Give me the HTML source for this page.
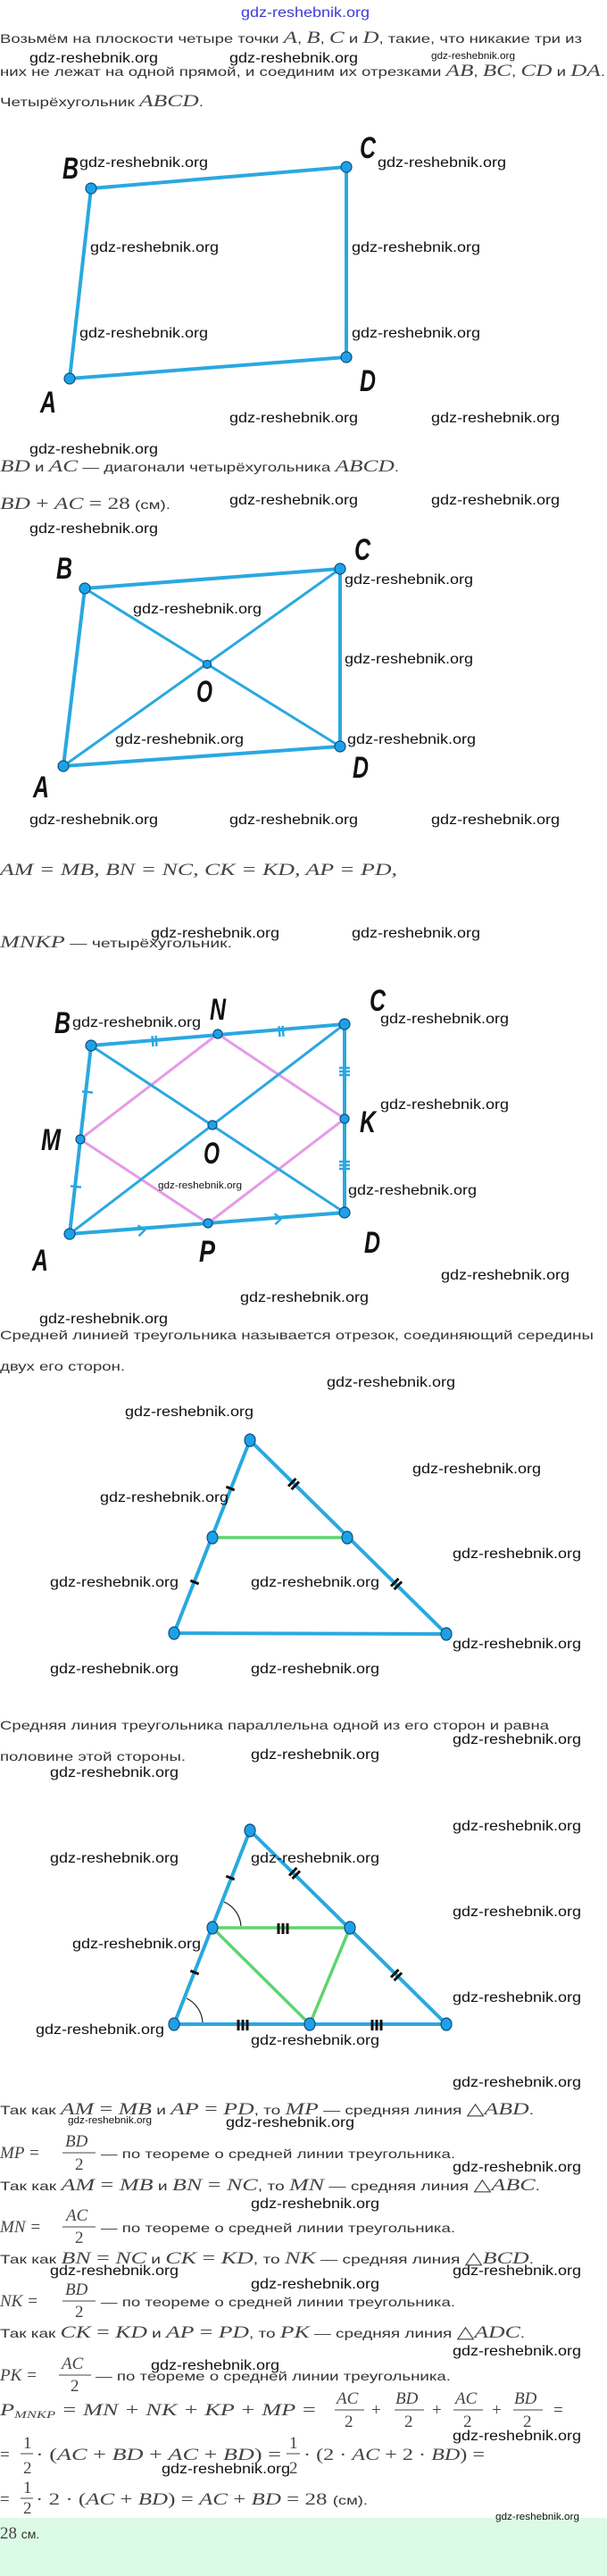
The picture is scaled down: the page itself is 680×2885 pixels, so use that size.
<!DOCTYPE html>
<html><head><meta charset="utf-8"><style>
html,body{margin:0;padding:0;background:#fff;}
svg{display:block;}
.t{font-family:"Liberation Sans",sans-serif;font-size:14px;fill:#333;}
.m{font-family:"Liberation Serif",serif;font-style:italic;font-size:19px;fill:#444;}
.r{font-family:"Liberation Serif",serif;font-size:19px;fill:#444;}
.w{font-family:"Liberation Sans",sans-serif;font-size:16px;fill:#111;}
.ws{font-family:"Liberation Sans",sans-serif;font-size:11px;fill:#111;}
.L{font-family:"Liberation Sans",sans-serif;font-weight:bold;font-style:italic;font-size:34px;fill:#111;}
.ln{stroke:#2aa8e0;stroke-width:4;fill:none;stroke-linecap:round;}
.ln2{stroke:#2aa8e0;stroke-width:3;fill:none;}
.pk{stroke:#e59be8;stroke-width:3;fill:none;}
.gr{stroke:#5fd46f;stroke-width:3.5;fill:none;}
.dt{fill:#1fa0e6;stroke:#0b4f80;stroke-width:1.2;}
.tk{stroke:#111;stroke-width:3;}
.tkb{stroke:#2aa8e0;stroke-width:2.5;fill:none;}
</style></head><body>
<svg width="680" height="2885" viewBox="0 0 680 2885" xmlns="http://www.w3.org/2000/svg">
<rect x="0" y="2820" width="680" height="65" fill="#dcfbe6"/>
<text x="270" y="19" font-family="Liberation Sans,sans-serif" font-size="16" fill="#3b3bd6" textLength="144" lengthAdjust="spacingAndGlyphs">gdz-reshebnik.org</text>

<text class="t" x="0" y="48" textLength="652" lengthAdjust="spacingAndGlyphs">Возьмём на плоскости четыре точки <tspan class="m">A</tspan>, <tspan class="m">B</tspan>, <tspan class="m">C</tspan> и <tspan class="m">D</tspan>, такие, что никакие три из</text>
<text class="w" x="33" y="70" textLength="144" lengthAdjust="spacingAndGlyphs">gdz-reshebnik.org</text>
<text class="w" x="257" y="70" textLength="144" lengthAdjust="spacingAndGlyphs">gdz-reshebnik.org</text>
<text class="ws" x="483" y="66" textLength="94" lengthAdjust="spacingAndGlyphs">gdz-reshebnik.org</text>
<text class="t" x="0" y="85" textLength="678" lengthAdjust="spacingAndGlyphs">них не лежат на одной прямой, и соединим их отрезками <tspan class="m">AB</tspan>, <tspan class="m">BC</tspan>, <tspan class="m">CD</tspan> и <tspan class="m">DA</tspan>.</text>
<text class="t" x="0" y="119" textLength="228" lengthAdjust="spacingAndGlyphs">Четырёхугольник <tspan class="m">ABCD</tspan>.</text>

<!-- Quad 1 -->
<polygon class="ln" points="102,211 388,187 388,400 78,424"/>
<circle class="dt" cx="102" cy="211" r="6"/><circle class="dt" cx="388" cy="187" r="6"/>
<circle class="dt" cx="388" cy="400" r="6"/><circle class="dt" cx="78" cy="424" r="6"/>
<text class="L" x="70" y="200" textLength="18" lengthAdjust="spacingAndGlyphs">B</text>
<text class="L" x="403" y="177" textLength="18" lengthAdjust="spacingAndGlyphs">C</text>
<text class="L" x="403" y="438" textLength="18" lengthAdjust="spacingAndGlyphs">D</text>
<text class="L" x="45" y="462" textLength="18" lengthAdjust="spacingAndGlyphs">A</text>
<text class="w" x="89" y="187" textLength="144" lengthAdjust="spacingAndGlyphs">gdz-reshebnik.org</text>
<text class="w" x="423" y="187" textLength="144" lengthAdjust="spacingAndGlyphs">gdz-reshebnik.org</text>
<text class="w" x="101" y="282" textLength="144" lengthAdjust="spacingAndGlyphs">gdz-reshebnik.org</text>
<text class="w" x="394" y="282" textLength="144" lengthAdjust="spacingAndGlyphs">gdz-reshebnik.org</text>
<text class="w" x="89" y="378" textLength="144" lengthAdjust="spacingAndGlyphs">gdz-reshebnik.org</text>
<text class="w" x="394" y="378" textLength="144" lengthAdjust="spacingAndGlyphs">gdz-reshebnik.org</text>
<text class="w" x="257" y="473" textLength="144" lengthAdjust="spacingAndGlyphs">gdz-reshebnik.org</text>
<text class="w" x="483" y="473" textLength="144" lengthAdjust="spacingAndGlyphs">gdz-reshebnik.org</text>

<text class="w" x="33" y="508" textLength="144" lengthAdjust="spacingAndGlyphs">gdz-reshebnik.org</text>
<text class="t" x="0" y="528" textLength="447" lengthAdjust="spacingAndGlyphs"><tspan class="m">BD</tspan> и <tspan class="m">AC</tspan> — диагонали четырёхугольника <tspan class="m">ABCD</tspan>.</text>
<text class="t" x="0" y="570" textLength="191" lengthAdjust="spacingAndGlyphs"><tspan class="m">BD</tspan><tspan class="r"> + </tspan><tspan class="m">AC</tspan><tspan class="r"> = 28</tspan> (см).</text>
<text class="w" x="257" y="565" textLength="144" lengthAdjust="spacingAndGlyphs">gdz-reshebnik.org</text>
<text class="w" x="483" y="565" textLength="144" lengthAdjust="spacingAndGlyphs">gdz-reshebnik.org</text>
<text class="w" x="33" y="597" textLength="144" lengthAdjust="spacingAndGlyphs">gdz-reshebnik.org</text>

<!-- Quad 2 -->
<polygon class="ln" points="95,659 381,637 381,836 71,858"/>
<line class="ln2" x1="95" y1="659" x2="381" y2="836"/>
<line class="ln2" x1="71" y1="858" x2="381" y2="637"/>
<circle class="dt" cx="95" cy="659" r="6"/><circle class="dt" cx="381" cy="637" r="6"/>
<circle class="dt" cx="381" cy="836" r="6"/><circle class="dt" cx="71" cy="858" r="6"/>
<circle class="dt" cx="232" cy="744" r="4.5"/>
<text class="L" x="63" y="648" textLength="18" lengthAdjust="spacingAndGlyphs">B</text>
<text class="L" x="397" y="627" textLength="18" lengthAdjust="spacingAndGlyphs">C</text>
<text class="L" x="220" y="786" textLength="18" lengthAdjust="spacingAndGlyphs">O</text>
<text class="L" x="395" y="871" textLength="18" lengthAdjust="spacingAndGlyphs">D</text>
<text class="L" x="37" y="893" textLength="18" lengthAdjust="spacingAndGlyphs">A</text>
<text class="w" x="149" y="687" textLength="144" lengthAdjust="spacingAndGlyphs">gdz-reshebnik.org</text>
<text class="w" x="386" y="654" textLength="144" lengthAdjust="spacingAndGlyphs">gdz-reshebnik.org</text>
<text class="w" x="386" y="743" textLength="144" lengthAdjust="spacingAndGlyphs">gdz-reshebnik.org</text>
<text class="w" x="129" y="833" textLength="144" lengthAdjust="spacingAndGlyphs">gdz-reshebnik.org</text>
<text class="w" x="389" y="833" textLength="144" lengthAdjust="spacingAndGlyphs">gdz-reshebnik.org</text>
<text class="w" x="33" y="923" textLength="144" lengthAdjust="spacingAndGlyphs">gdz-reshebnik.org</text>
<text class="w" x="257" y="923" textLength="144" lengthAdjust="spacingAndGlyphs">gdz-reshebnik.org</text>
<text class="w" x="483" y="923" textLength="144" lengthAdjust="spacingAndGlyphs">gdz-reshebnik.org</text>

<text class="m" x="0" y="980" textLength="445" lengthAdjust="spacingAndGlyphs">AM<tspan class="r"> = </tspan>MB<tspan class="r">, </tspan>BN<tspan class="r"> = </tspan>NC<tspan class="r">, </tspan>CK<tspan class="r"> = </tspan>KD<tspan class="r">, </tspan>AP<tspan class="r"> = </tspan>PD<tspan class="r">,</tspan></text>
<text class="t" x="0" y="1061" textLength="260" lengthAdjust="spacingAndGlyphs"><tspan class="m">MNKP</tspan> — четырёхугольник.</text>
<text class="w" x="169" y="1050" textLength="144" lengthAdjust="spacingAndGlyphs">gdz-reshebnik.org</text>
<text class="w" x="394" y="1050" textLength="144" lengthAdjust="spacingAndGlyphs">gdz-reshebnik.org</text>

<!-- Quad 3 -->
<polygon class="pk" points="90,1276 244,1158 386,1253 233,1370"/>
<line class="ln2" x1="102" y1="1171" x2="386" y2="1358"/>
<line class="ln2" x1="78" y1="1382" x2="386" y2="1147"/>
<polygon class="ln" points="102,1171 386,1147 386,1358 78,1382"/>
<g class="tk" style="stroke:#2aa8e0;stroke-width:2.5">
<g transform="translate(98,1223) rotate(96.5)"><line x1="0" y1="-6" x2="0" y2="6"/></g>
<g transform="translate(85,1329) rotate(96.5)"><line x1="0" y1="-6" x2="0" y2="6"/></g>
<g transform="translate(173,1166) rotate(-4.8)"><line x1="-2" y1="-6" x2="-2" y2="6"/><line x1="2" y1="-6" x2="2" y2="6"/></g>
<g transform="translate(315,1155) rotate(-4.8)"><line x1="-2" y1="-6" x2="-2" y2="6"/><line x1="2" y1="-6" x2="2" y2="6"/></g>
<g transform="translate(386,1200) rotate(90)"><line x1="-4" y1="-6" x2="-4" y2="6"/><line x1="0" y1="-6" x2="0" y2="6"/><line x1="4" y1="-6" x2="4" y2="6"/></g>
<g transform="translate(386,1305) rotate(90)"><line x1="-4" y1="-6" x2="-4" y2="6"/><line x1="0" y1="-6" x2="0" y2="6"/><line x1="4" y1="-6" x2="4" y2="6"/></g>
</g>
<path class="tkb" transform="translate(159,1378) rotate(-4.5)" d="M-4,-6 L3,0 L-4,6"/>
<path class="tkb" transform="translate(312,1365) rotate(-4.5)" d="M-4,-6 L3,0 L-4,6"/>
<circle class="dt" cx="102" cy="1171" r="6"/><circle class="dt" cx="244" cy="1158" r="5"/>
<circle class="dt" cx="386" cy="1147" r="6"/><circle class="dt" cx="386" cy="1253" r="5"/>
<circle class="dt" cx="386" cy="1358" r="6"/><circle class="dt" cx="233" cy="1370" r="5"/>
<circle class="dt" cx="78" cy="1382" r="6"/><circle class="dt" cx="90" cy="1276" r="5"/>
<circle class="dt" cx="238" cy="1260" r="5"/>
<text class="L" x="61" y="1157" textLength="18" lengthAdjust="spacingAndGlyphs">B</text>
<text class="L" x="235" y="1142" textLength="18" lengthAdjust="spacingAndGlyphs">N</text>
<text class="L" x="414" y="1132" textLength="18" lengthAdjust="spacingAndGlyphs">C</text>
<text class="L" x="403" y="1268" textLength="18" lengthAdjust="spacingAndGlyphs">K</text>
<text class="L" x="46" y="1288" textLength="22" lengthAdjust="spacingAndGlyphs">M</text>
<text class="L" x="228" y="1303" textLength="18" lengthAdjust="spacingAndGlyphs">O</text>
<text class="L" x="223" y="1413" textLength="18" lengthAdjust="spacingAndGlyphs">P</text>
<text class="L" x="36" y="1423" textLength="18" lengthAdjust="spacingAndGlyphs">A</text>
<text class="L" x="408" y="1403" textLength="18" lengthAdjust="spacingAndGlyphs">D</text>
<text class="w" x="81" y="1150" textLength="144" lengthAdjust="spacingAndGlyphs">gdz-reshebnik.org</text>
<text class="w" x="426" y="1146" textLength="144" lengthAdjust="spacingAndGlyphs">gdz-reshebnik.org</text>
<text class="w" x="426" y="1242" textLength="144" lengthAdjust="spacingAndGlyphs">gdz-reshebnik.org</text>
<text class="ws" x="177" y="1331" textLength="94" lengthAdjust="spacingAndGlyphs">gdz-reshebnik.org</text>
<text class="w" x="390" y="1338" textLength="144" lengthAdjust="spacingAndGlyphs">gdz-reshebnik.org</text>
<text class="w" x="494" y="1433" textLength="144" lengthAdjust="spacingAndGlyphs">gdz-reshebnik.org</text>
<text class="w" x="269" y="1458" textLength="144" lengthAdjust="spacingAndGlyphs">gdz-reshebnik.org</text>
<text class="w" x="44" y="1482" textLength="144" lengthAdjust="spacingAndGlyphs">gdz-reshebnik.org</text>

<text class="t" x="0" y="1500" textLength="665" lengthAdjust="spacingAndGlyphs">Средней линией треугольника называется отрезок, соединяющий середины</text>
<text class="t" x="0" y="1535" textLength="140" lengthAdjust="spacingAndGlyphs">двух его сторон.</text>

<!-- Triangle 1 -->
<text class="w" x="366" y="1553" textLength="144" lengthAdjust="spacingAndGlyphs">gdz-reshebnik.org</text>
<text class="w" x="140" y="1586" textLength="144" lengthAdjust="spacingAndGlyphs">gdz-reshebnik.org</text>
<text class="w" x="462" y="1650" textLength="144" lengthAdjust="spacingAndGlyphs">gdz-reshebnik.org</text>
<polygon class="ln" points="280,1613 500,1830 195,1829"/>
<line class="gr" x1="238" y1="1722" x2="389" y2="1722"/>
<g class="tk">
<g transform="translate(258,1667) rotate(111.5)"><line x1="0" y1="-5" x2="0" y2="5"/></g>
<g transform="translate(218,1772) rotate(111.5)"><line x1="0" y1="-5" x2="0" y2="5"/></g>
<g transform="translate(329,1662) rotate(44.6)"><line x1="-2.5" y1="-6" x2="-2.5" y2="6"/><line x1="2.5" y1="-6" x2="2.5" y2="6"/></g>
<g transform="translate(444,1774) rotate(44.6)"><line x1="-2.5" y1="-6" x2="-2.5" y2="6"/><line x1="2.5" y1="-6" x2="2.5" y2="6"/></g>
</g>
<ellipse class="dt" cx="280" cy="1613" rx="6" ry="7"/><ellipse class="dt" cx="238" cy="1722" rx="6" ry="7"/>
<ellipse class="dt" cx="389" cy="1722" rx="6" ry="7"/><ellipse class="dt" cx="195" cy="1829" rx="6" ry="7"/>
<ellipse class="dt" cx="500" cy="1830" rx="6" ry="7"/>
<text class="w" x="112" y="1682" textLength="144" lengthAdjust="spacingAndGlyphs">gdz-reshebnik.org</text>
<text class="w" x="507" y="1745" textLength="144" lengthAdjust="spacingAndGlyphs">gdz-reshebnik.org</text>
<text class="w" x="56" y="1777" textLength="144" lengthAdjust="spacingAndGlyphs">gdz-reshebnik.org</text>
<text class="w" x="281" y="1777" textLength="144" lengthAdjust="spacingAndGlyphs">gdz-reshebnik.org</text>
<text class="w" x="507" y="1846" textLength="144" lengthAdjust="spacingAndGlyphs">gdz-reshebnik.org</text>
<text class="w" x="56" y="1874" textLength="144" lengthAdjust="spacingAndGlyphs">gdz-reshebnik.org</text>
<text class="w" x="281" y="1874" textLength="144" lengthAdjust="spacingAndGlyphs">gdz-reshebnik.org</text>

<text class="t" x="0" y="1937" textLength="615" lengthAdjust="spacingAndGlyphs">Средняя линия треугольника параллельна одной из его сторон и равна</text>
<text class="w" x="507" y="1953" textLength="144" lengthAdjust="spacingAndGlyphs">gdz-reshebnik.org</text>
<text class="t" x="0" y="1972" textLength="208" lengthAdjust="spacingAndGlyphs">половине этой стороны.</text>
<text class="w" x="281" y="1970" textLength="144" lengthAdjust="spacingAndGlyphs">gdz-reshebnik.org</text>
<text class="w" x="56" y="1990" textLength="144" lengthAdjust="spacingAndGlyphs">gdz-reshebnik.org</text>

<!-- Triangle 2 -->
<text class="w" x="507" y="2050" textLength="144" lengthAdjust="spacingAndGlyphs">gdz-reshebnik.org</text>
<polygon class="ln" points="280,2050 500,2267 195,2267"/>
<polyline class="gr" points="347,2267 238,2159 392,2159 347,2267"/>
<path d="M251,2130 A32,32 0 0 1 270,2157" stroke="#222" stroke-width="1.2" fill="none"/>
<path d="M209,2238 A32,32 0 0 1 227,2265" stroke="#222" stroke-width="1.2" fill="none"/>
<g class="tk">
<g transform="translate(258,2103) rotate(111.4)"><line x1="0" y1="-5" x2="0" y2="5"/></g>
<g transform="translate(218,2209) rotate(111.4)"><line x1="0" y1="-5" x2="0" y2="5"/></g>
<g transform="translate(330,2098) rotate(44.6)"><line x1="-2.5" y1="-6" x2="-2.5" y2="6"/><line x1="2.5" y1="-6" x2="2.5" y2="6"/></g>
<g transform="translate(444,2212) rotate(44.6)"><line x1="-2.5" y1="-6" x2="-2.5" y2="6"/><line x1="2.5" y1="-6" x2="2.5" y2="6"/></g>
<g transform="translate(317,2160)"><line x1="-5" y1="-6" x2="-5" y2="6"/><line x1="0" y1="-6" x2="0" y2="6"/><line x1="5" y1="-6" x2="5" y2="6"/></g>
<g transform="translate(272,2268)"><line x1="-5" y1="-6" x2="-5" y2="6"/><line x1="0" y1="-6" x2="0" y2="6"/><line x1="5" y1="-6" x2="5" y2="6"/></g>
<g transform="translate(422,2268)"><line x1="-5" y1="-6" x2="-5" y2="6"/><line x1="0" y1="-6" x2="0" y2="6"/><line x1="5" y1="-6" x2="5" y2="6"/></g>
</g>
<ellipse class="dt" cx="280" cy="2050" rx="6" ry="7"/><ellipse class="dt" cx="238" cy="2159" rx="6" ry="7"/>
<ellipse class="dt" cx="392" cy="2159" rx="6" ry="7"/><ellipse class="dt" cx="195" cy="2267" rx="6" ry="7"/>
<ellipse class="dt" cx="347" cy="2267" rx="6" ry="7"/><ellipse class="dt" cx="500" cy="2267" rx="6" ry="7"/>
<text class="w" x="56" y="2086" textLength="144" lengthAdjust="spacingAndGlyphs">gdz-reshebnik.org</text>
<text class="w" x="281" y="2086" textLength="144" lengthAdjust="spacingAndGlyphs">gdz-reshebnik.org</text>
<text class="w" x="507" y="2146" textLength="144" lengthAdjust="spacingAndGlyphs">gdz-reshebnik.org</text>
<text class="w" x="81" y="2182" textLength="144" lengthAdjust="spacingAndGlyphs">gdz-reshebnik.org</text>
<text class="w" x="507" y="2242" textLength="144" lengthAdjust="spacingAndGlyphs">gdz-reshebnik.org</text>
<text class="w" x="40" y="2278" textLength="144" lengthAdjust="spacingAndGlyphs">gdz-reshebnik.org</text>
<text class="w" x="281" y="2290" textLength="144" lengthAdjust="spacingAndGlyphs">gdz-reshebnik.org</text>
<text class="w" x="507" y="2337" textLength="144" lengthAdjust="spacingAndGlyphs">gdz-reshebnik.org</text>

<!-- Solution -->
<text class="t" x="0" y="2368" textLength="598" lengthAdjust="spacingAndGlyphs">Так как <tspan class="m">AM</tspan><tspan class="r"> = </tspan><tspan class="m">MB</tspan> и <tspan class="m">AP</tspan><tspan class="r"> = </tspan><tspan class="m">PD</tspan>, то <tspan class="m">MP</tspan> — средняя линия <tspan class="r">△</tspan><tspan class="m">ABD</tspan>.</text>
<text class="ws" x="76" y="2378" textLength="94" lengthAdjust="spacingAndGlyphs">gdz-reshebnik.org</text>
<text class="w" x="253" y="2382" textLength="144" lengthAdjust="spacingAndGlyphs">gdz-reshebnik.org</text>

<text class="m" x="0" y="2417">MP<tspan class="r"> =</tspan></text>
<text class="m" x="73" y="2404">BD</text><line x1="70" y1="2411" x2="107" y2="2411" stroke="#444" stroke-width="1"/><text class="r" x="84" y="2430">2</text>
<text class="t" x="113" y="2417" textLength="397" lengthAdjust="spacingAndGlyphs">— по теореме о средней линии треугольника.</text>
<text class="w" x="507" y="2432" textLength="144" lengthAdjust="spacingAndGlyphs">gdz-reshebnik.org</text>

<text class="t" x="0" y="2453" textLength="605" lengthAdjust="spacingAndGlyphs">Так как <tspan class="m">AM</tspan><tspan class="r"> = </tspan><tspan class="m">MB</tspan> и <tspan class="m">BN</tspan><tspan class="r"> = </tspan><tspan class="m">NC</tspan>, то <tspan class="m">MN</tspan> — средняя линия <tspan class="r">△</tspan><tspan class="m">ABC</tspan>.</text>
<text class="w" x="281" y="2473" textLength="144" lengthAdjust="spacingAndGlyphs">gdz-reshebnik.org</text>

<text class="m" x="0" y="2500">MN<tspan class="r"> =</tspan></text>
<text class="m" x="74" y="2487">AC</text><line x1="70" y1="2494" x2="107" y2="2494" stroke="#444" stroke-width="1"/><text class="r" x="84" y="2512">2</text>
<text class="t" x="113" y="2500" textLength="397" lengthAdjust="spacingAndGlyphs">— по теореме о средней линии треугольника.</text>

<text class="t" x="0" y="2535" textLength="598" lengthAdjust="spacingAndGlyphs">Так как <tspan class="m">BN</tspan><tspan class="r"> = </tspan><tspan class="m">NC</tspan> и <tspan class="m">CK</tspan><tspan class="r"> = </tspan><tspan class="m">KD</tspan>, то <tspan class="m">NK</tspan> — средняя линия <tspan class="r">△</tspan><tspan class="m">BCD</tspan>.</text>
<text class="w" x="56" y="2548" textLength="144" lengthAdjust="spacingAndGlyphs">gdz-reshebnik.org</text>
<text class="w" x="507" y="2548" textLength="144" lengthAdjust="spacingAndGlyphs">gdz-reshebnik.org</text>
<text class="w" x="281" y="2563" textLength="144" lengthAdjust="spacingAndGlyphs">gdz-reshebnik.org</text>

<text class="m" x="0" y="2583">NK<tspan class="r"> =</tspan></text>
<text class="m" x="73" y="2570">BD</text><line x1="70" y1="2577" x2="107" y2="2577" stroke="#444" stroke-width="1"/><text class="r" x="84" y="2595">2</text>
<text class="t" x="113" y="2583" textLength="397" lengthAdjust="spacingAndGlyphs">— по теореме о средней линии треугольника.</text>

<text class="t" x="0" y="2618" textLength="588" lengthAdjust="spacingAndGlyphs">Так как <tspan class="m">CK</tspan><tspan class="r"> = </tspan><tspan class="m">KD</tspan> и <tspan class="m">AP</tspan><tspan class="r"> = </tspan><tspan class="m">PD</tspan>, то <tspan class="m">PK</tspan> — средняя линия <tspan class="r">△</tspan><tspan class="m">ADC</tspan>.</text>
<text class="w" x="507" y="2638" textLength="144" lengthAdjust="spacingAndGlyphs">gdz-reshebnik.org</text>

<text class="m" x="0" y="2666">PK<tspan class="r"> =</tspan></text>
<text class="m" x="69" y="2653">AC</text><line x1="66" y1="2660" x2="102" y2="2660" stroke="#444" stroke-width="1"/><text class="r" x="79" y="2678">2</text>
<text class="t" x="107" y="2666" textLength="398" lengthAdjust="spacingAndGlyphs">— по теореме о средней линии треугольника.</text>
<text class="w" x="169" y="2654" textLength="144" lengthAdjust="spacingAndGlyphs">gdz-reshebnik.org</text>

<text class="m" x="0" y="2705" textLength="355" lengthAdjust="spacingAndGlyphs">P<tspan font-size="12" dy="3">MNKP</tspan><tspan class="r" dy="-3"> = </tspan>MN<tspan class="r"> + </tspan>NK<tspan class="r"> + </tspan>KP<tspan class="r"> + </tspan>MP<tspan class="r"> =</tspan></text>
<text class="m" x="377" y="2692">AC</text><line x1="375" y1="2699" x2="408" y2="2699" stroke="#444" stroke-width="1"/><text class="r" x="386" y="2718">2</text>
<text class="r" x="416" y="2705">+</text>
<text class="m" x="443" y="2692">BD</text><line x1="442" y1="2699" x2="475" y2="2699" stroke="#444" stroke-width="1"/><text class="r" x="453" y="2718">2</text>
<text class="r" x="484" y="2705">+</text>
<text class="m" x="510" y="2692">AC</text><line x1="508" y1="2699" x2="541" y2="2699" stroke="#444" stroke-width="1"/><text class="r" x="519" y="2718">2</text>
<text class="r" x="551" y="2705">+</text>
<text class="m" x="576" y="2692">BD</text><line x1="575" y1="2699" x2="608" y2="2699" stroke="#444" stroke-width="1"/><text class="r" x="586" y="2718">2</text>
<text class="r" x="620" y="2705">=</text>
<text class="w" x="507" y="2733" textLength="144" lengthAdjust="spacingAndGlyphs">gdz-reshebnik.org</text>

<text class="r" x="0" y="2755">=</text>
<text class="r" x="26" y="2742">1</text><line x1="23" y1="2748" x2="37" y2="2748" stroke="#444" stroke-width="1"/><text class="r" x="26" y="2770">2</text>
<text class="r" x="40" y="2755" textLength="275" lengthAdjust="spacingAndGlyphs">· (<tspan class="m">AC</tspan> + <tspan class="m">BD</tspan> + <tspan class="m">AC</tspan> + <tspan class="m">BD</tspan>) =</text>
<text class="r" x="324" y="2742">1</text><line x1="321" y1="2748" x2="336" y2="2748" stroke="#444" stroke-width="1"/><text class="r" x="324" y="2770">2</text>
<text class="r" x="340" y="2755" textLength="203" lengthAdjust="spacingAndGlyphs">· (2 · <tspan class="m">AC</tspan> + 2 · <tspan class="m">BD</tspan>) =</text>
<text class="w" x="181" y="2770" textLength="144" lengthAdjust="spacingAndGlyphs">gdz-reshebnik.org</text>

<text class="r" x="0" y="2805">=</text>
<text class="r" x="26" y="2792">1</text><line x1="23" y1="2798" x2="37" y2="2798" stroke="#444" stroke-width="1"/><text class="r" x="26" y="2815">2</text>
<text class="r" x="40" y="2805" textLength="372" lengthAdjust="spacingAndGlyphs">· 2 · (<tspan class="m">AC</tspan> + <tspan class="m">BD</tspan>) = <tspan class="m">AC</tspan> + <tspan class="m">BD</tspan> = 28 <tspan class="t">(см).</tspan></text>
<text class="ws" x="555" y="2822" textLength="94" lengthAdjust="spacingAndGlyphs">gdz-reshebnik.org</text>

<text class="r" x="0" y="2843">28 <tspan class="t" font-size="16">см.</tspan></text>
</svg>
</body></html>
